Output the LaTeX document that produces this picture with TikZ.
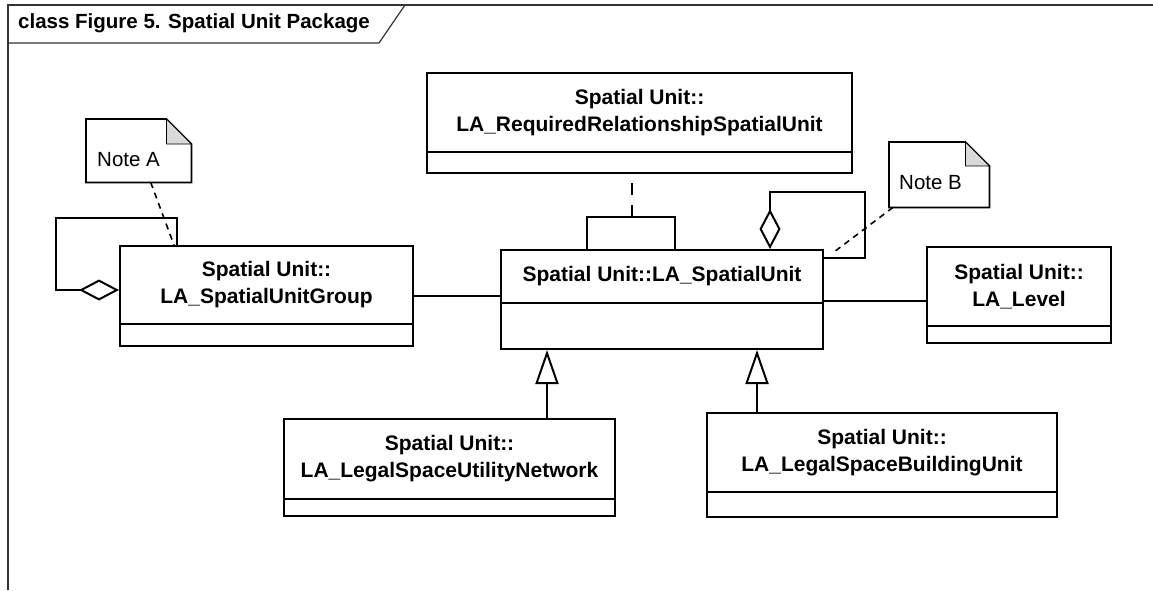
\documentclass[tikz,border=0pt]{standalone}
\usepackage{fontspec}
\setmainfont{Liberation Sans}
\usetikzlibrary{arrows.meta,calc}

\begin{document}
\begin{tikzpicture}[x=1pt,y=-1pt,line join=miter,
	frame/.style={draw=black!80,line width=1.2pt},
	cls/.style={draw,line width=2pt,inner sep=0pt},
	clsname/.style={inner sep=0pt,align=center,font=\bfseries\fontsize{21pt}{27pt}\selectfont},
	sep/.style={line width=2pt},
	notebox/.style={draw,line width=1.8pt,fill=white},
	fold/.style={draw,line width=.8pt,fill=black!15},
	notetext/.style={inner sep=0pt,font=\fontsize{20.5pt}{24pt}\selectfont},
	notelink/.style={line width=1.6pt,dash pattern=on 6pt off 5pt},
	assoc/.style={line width=2pt},
	gen/.style={line width=2pt,-{Triangle[open,length=34pt,width=23pt]}},
	agg/.style={line width=2pt,-{Diamond[open,length=40pt,width=21pt]}}]
	\useasboundingbox (0,0) rectangle (1153,590);
	% frame and title tab
	\draw[frame] (8,590) |- (1153,5);
	\draw[frame] (8,43) -- (379,43) -- (405,5);
	\node[anchor=west,inner sep=0pt,font=\bfseries\fontsize{20.5pt}{24pt}\selectfont] (title) at (18,23) {class Figure 5. Spatial Unit Package};
	% classes
	\node[cls,minimum width=293pt,minimum height=100pt] (sug) at (266.5,296) {};
	\node[clsname,minimum width=293pt,minimum height=79pt,anchor=north] (sug-n) at (sug.north) {Spatial Unit::\\LA\_SpatialUnitGroup};
	\draw[sep] (sug-n.south west) -- (sug-n.south east);
	\node[cls,minimum width=425pt,minimum height=100pt] (req) at (639.5,123) {};
	\node[clsname,minimum width=425pt,minimum height=80pt,anchor=north] (req-n) at (req.north) {Spatial Unit::\\LA\_RequiredRelationshipSpatialUnit};
	\draw[sep] (req-n.south west) -- (req-n.south east);
	\node[cls,minimum width=322pt,minimum height=99pt] (su) at (662,299.5) {};
	\node[clsname,minimum width=322pt,minimum height=54pt,anchor=north] (su-n) at (su.north) {Spatial Unit::LA\_SpatialUnit};
	\draw[sep] (su-n.south west) -- (su-n.south east);
	\node[cls,minimum width=184pt,minimum height=96pt] (lvl) at (1019,295) {};
	\node[clsname,minimum width=184pt,minimum height=80pt,anchor=north] (lvl-n) at (lvl.north) {Spatial Unit::\\LA\_Level};
	\draw[sep] (lvl-n.south west) -- (lvl-n.south east);
	\node[cls,minimum width=331pt,minimum height=97pt] (utl) at (449.5,467.5) {};
	\node[clsname,minimum width=331pt,minimum height=81pt,anchor=north] (utl-n) at (utl.north) {Spatial Unit::\\LA\_LegalSpaceUtilityNetwork};
	\draw[sep] (utl-n.south west) -- (utl-n.south east);
	\node[cls,minimum width=350pt,minimum height=104pt] (bld) at (882,465) {};
	\node[clsname,minimum width=350pt,minimum height=80pt,anchor=north] (bld-n) at (bld.north) {Spatial Unit::\\LA\_LegalSpaceBuildingUnit};
	\draw[sep] (bld-n.south west) -- (bld-n.south east);
	% notes
	\node[inner sep=0pt,minimum width=105pt,minimum height=63pt,anchor=north west] (na) at (86,119) {};
	\draw[notebox] (na.north west) -- ($(na.north east)+(-25,0)$) -- ($(na.north east)+(0,25)$) |- (na.south west) -- cycle;
	\draw[fold] ($(na.north east)+(-25,0)$) -- ($(na.north east)+(-25,25)$) -- ($(na.north east)+(0,25)$) -- cycle;
	\node[notetext,anchor=west] (na-t) at ($(na.west)+(11,8.5)$) {Note A};
	\node[inner sep=0pt,minimum width=100pt,minimum height=65pt,anchor=north west] (nb) at (889,142) {};
	\draw[notebox] (nb.north west) -- ($(nb.north east)+(-24,0)$) -- ($(nb.north east)+(0,24)$) |- (nb.south west) -- cycle;
	\draw[fold] ($(nb.north east)+(-24,0)$) -- ($(nb.north east)+(-24,24)$) -- ($(nb.north east)+(0,24)$) -- cycle;
	\node[notetext,anchor=west] (nb-t) at ($(nb.west)+(10,7.5)$) {Note B};
	% associations
	\draw[assoc] (sug.east) -- (sug.east -| su.west);
	\coordinate (sue) at ($(su.east)+(0,1.5)$);
	\draw[assoc] (sue) -- (sue -| lvl.west);
	\draw[agg] ($(sug.north west)+(58,0)$) |- (56,218) |- ($(sug.north west)+(0,45)$);
	\draw[agg] ($(su.north east)+(0,9)$) -| (865,192) -| ($(su.north west)+(270,0)$);
	\draw[assoc] ($(su.north west)+(87,0)$) |- (675,217) coordinate (br) -- (br |- su.north);
	\coordinate (brm) at (631.5,217);
	\draw[assoc,dash pattern=on 12pt off 10pt] (brm) -- (brm |- req.south);
	% notes links
	\draw[notelink] ($(na.south)+(12,0)$) -- ($(sug.north west)+(55,0)$);
	\draw[notelink] ($(nb.south west)+(4,0)$) -- ($(su.north east)+(10,3)$);
	% generalizations
	\coordinate (g1) at (547,0);
	\coordinate (g2) at (757,0);
	\draw[gen] (utl.north -| g1) -- (su.south -| g1);
	\draw[gen] (bld.north -| g2) -- (su.south -| g2);
\end{tikzpicture}
\end{document}
